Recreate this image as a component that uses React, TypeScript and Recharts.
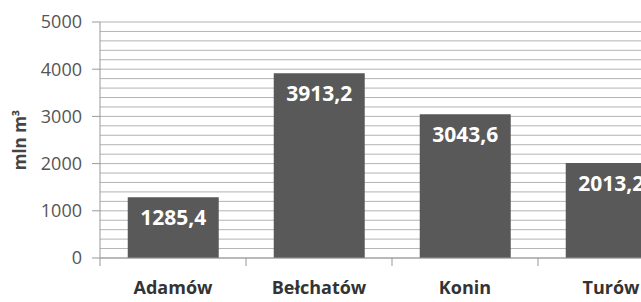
import { BarChart, Bar, XAxis, YAxis, CartesianGrid, LabelList } from 'recharts'

const mines = ['Adamów', 'Bełchatów', 'Konin', 'Turów']
const volumes = [1285.4, 3913.2, 3043.6, 2013.2]
const yDomain = [0, 5000]
const yTicks = [0, 1000, 2000, 3000, 4000, 5000]
const gridValues = [
  0, 200, 400, 600, 800, 1000, 1200, 1400, 1600, 1800, 2000, 2200, 2400,
  2600, 2800, 3000, 3200, 3400, 3600, 3800, 4000, 4200, 4400, 4600, 4800, 5000,
]

const data = mines.map((name, i) => ({ name, value: volumes[i] }))

const FONT = '"Open Sans", sans-serif'

function CategoryTick(props: any) {
  const { x, y, payload } = props
  const half = payload?.offset ?? 0
  return (
    <g>
      <line x1={x - half} y1={y - 8} x2={x - half} y2={y} stroke="#999" />
      <text
        x={x}
        y={y + 28}
        textAnchor="middle"
        fill="#333"
        fontSize={18}
        fontWeight={700}
        fontFamily={FONT}
      >
        {payload.value}
      </text>
    </g>
  )
}

// minor grid every 200
const gridCoords = (args: any) => {
  const scale = args?.yAxis?.scale
  if (typeof scale === 'function') return gridValues.map((v) => scale(v))
  if (scale && typeof scale.map === 'function') return gridValues.map((v) => scale.map(v))
  const { top, height } = args.offset
  const [lo, hi] = yDomain
  return gridValues.map((v) => top + height * (1 - (v - lo) / (hi - lo)))
}

export default function App() {
  return (
    <div
      style={{
        position: 'fixed',
        left: 0,
        top: 0,
        width: 641,
        height: 302,
        overflow: 'hidden',
        background: '#fff',
      }}
    >
      <BarChart
        width={700}
        height={302}
        data={data}
        margin={{ top: 22, right: 16, left: 0, bottom: 0 }}
        barCategoryGap="19%"
      >
        <CartesianGrid
          vertical={false}
          horizontalCoordinatesGenerator={gridCoords}
          stroke="#b3b3b3"
        />
        <XAxis
          dataKey="name"
          height={44}
          axisLine={{ stroke: '#999' }}
          tickLine={false}
          tick={<CategoryTick />}
          interval={0}
        />
        <YAxis
          width={100}
          domain={yDomain}
          ticks={yTicks}
          axisLine={{ stroke: '#999' }}
          tickLine={{ stroke: '#999' }}
          tickSize={8}
          tickMargin={10}
          tick={{ fill: '#555', fontSize: 18, fontFamily: FONT }}
          label={{
            value: 'mln m³',
            angle: -90,
            position: 'insideLeft',
            offset: 20,
            style: { fill: '#444', fontSize: 17, fontWeight: 700, fontFamily: FONT, textAnchor: 'middle' },
          }}
        />
        <Bar dataKey="value" fill="#595959" isAnimationActive={false}>
          <LabelList
            dataKey="value"
            position="insideTop"
            offset={13}
            formatter={(v: any) => String(v).replace('.', ',')}
            style={{ fill: '#fff', fontSize: 21, fontWeight: 700, fontFamily: FONT }}
          />
        </Bar>
      </BarChart>
    </div>
  )
}
